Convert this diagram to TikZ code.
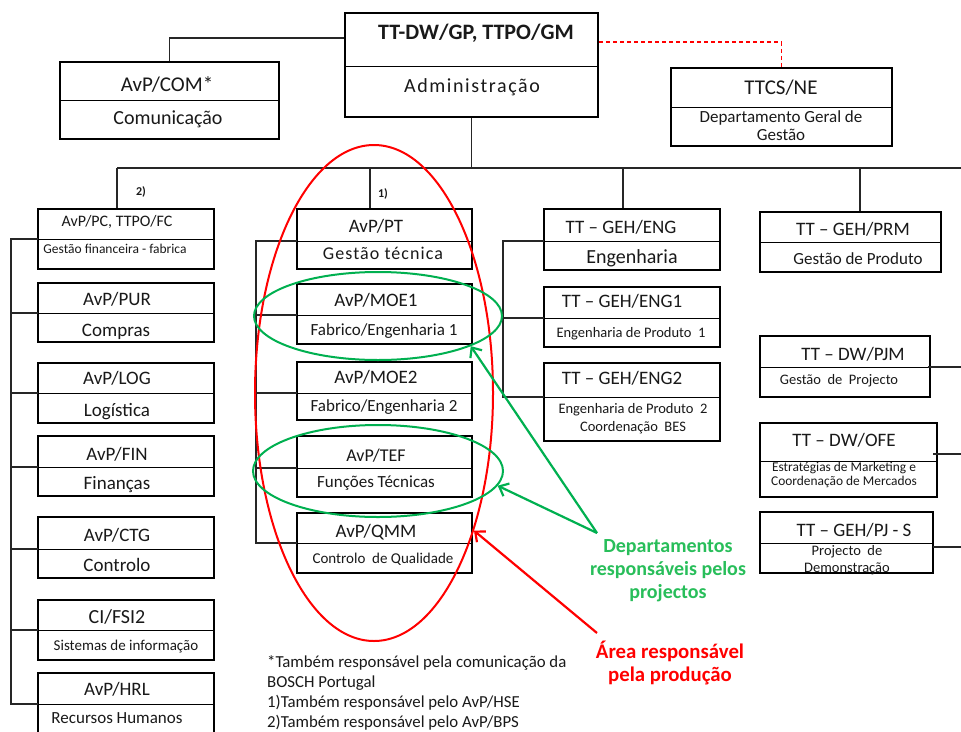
\documentclass[tikz,border=0pt]{standalone}
\usepackage{fontspec}
\setmainfont{Carlito}
\usetikzlibrary{fit,shapes.geometric,arrows.meta}
\definecolor{ringgreen}{RGB}{0,176,80}
\definecolor{notegreen}{RGB}{40,190,90}
\definecolor{ringred}{RGB}{255,0,0}
\newcommand\fsz[2]{\fontsize{#1}{#2}\selectfont}
\tikzset{
  box/.style={draw=black, line width=2.6pt, inner sep=0pt},
  divider/.style={line width=1pt},
  conn/.style={line width=1.1pt, black!85},
  lbl/.style={inner sep=0pt, anchor=base, align=center, text=black!90},
  ring/.style={ellipse, inner sep=0pt, line width=2pt},
  pointer/.style={line width=2.2pt, -{Straight Barb[length=8pt,width=14pt]}},
}
% two-part box: name, x1, y1, x2, y of divider, y2
\newcommand\orgbox[6]{%
  \node[box, fit={(#2,#3) (#4,#6)}] (#1) {};
  \coordinate (#1-dl) at (#2,#5);
  \coordinate (#1-dr) at (#4,#5);
  \draw[divider] (#1-dl) -- (#1-dr);
}
\begin{document}
\begin{tikzpicture}[x=1pt,y=-1pt]
\useasboundingbox (0,0) rectangle (961,731);
\fill[white] (0,0) rectangle (961,731);

% ---------- boxes ----------
\orgbox{top}{345}{13}{598}{66}{117}
\node[lbl, font=\bfseries\fsz{22}{26}] (top-t) at (476,39) {TT-DW/GP, TTPO/GM};
\node[lbl, font={\fsz{20}{24}\addfontfeature{LetterSpace=8}}] (top-b) at (472,92) {Administração};

\orgbox{com}{60}{62}{279}{100}{139}
\node[lbl, font=\fsz{21}{24}] (com-t) at (167,91) {AvP/COM*};
\node[lbl, font=\fsz{20}{24}] (com-b) at (168,124) {Comunicação};

\orgbox{ttcs}{671}{68}{892}{107}{146}
\node[lbl, font=\fsz{21}{24}] (ttcs-t) at (781,94) {TTCS/NE};
\node[lbl, font=\fsz{17}{18}] (ttcs-b) at (781,140) {Departamento Geral de\\Gestão};

% left column
\orgbox{pc}{38}{209}{214}{239}{269}
\node[lbl, font=\fsz{16}{18}] (pc-t) at (117,226) {AvP/PC, TTPO/FC};
\node[lbl, font=\fsz{13.5}{15}] (pc-b) at (115,253) {Gestão financeira - fabrica};

\orgbox{pur}{38}{283}{214}{313}{342}
\node[lbl, font=\fsz{19}{22}] (pur-t) at (117,305) {AvP/PUR};
\node[lbl, font=\fsz{19}{22}] (pur-b) at (116,336) {Compras};

\orgbox{log}{38}{363}{214}{393}{423}
\node[lbl, font=\fsz{19}{22}] (log-t) at (117,384) {AvP/LOG};
\node[lbl, font=\fsz{19}{22}] (log-b) at (117,416) {Logística};

\orgbox{fin}{38}{436}{214}{467}{496}
\node[lbl, font=\fsz{19}{22}] (fin-t) at (117,460) {AvP/FIN};
\node[lbl, font=\fsz{19}{22}] (fin-b) at (117,489) {Finanças};

\orgbox{ctg}{38}{517}{214}{549}{578}
\node[lbl, font=\fsz{19}{22}] (ctg-t) at (117,541) {AvP/CTG};
\node[lbl, font=\fsz{19}{22}] (ctg-b) at (117,571) {Controlo};

\orgbox{fsi}{38}{600}{214}{630}{660}
\node[lbl, font=\fsz{20}{22}] (fsi-t) at (117,623) {CI/FSI2};
\node[lbl, font=\fsz{15}{18}] (fsi-b) at (126,650) {Sistemas de informação};

\orgbox{hrl}{38}{673}{214}{704}{745}
\node[lbl, font=\fsz{19}{22}] (hrl-t) at (117,695) {AvP/HRL};
\node[lbl, font=\fsz{17}{20}] (hrl-b) at (117,723) {Recursos Humanos};

% production column
\orgbox{pt}{297}{209}{472}{241}{269}
\node[lbl, font=\fsz{19}{22}] (pt-t) at (376,232) {AvP/PT};
\node[lbl, font={\fsz{18}{22}\addfontfeature{LetterSpace=6}}] (pt-b) at (383,259) {Gestão técnica};

\orgbox{moea}{297}{284}{472}{315}{344}
\node[lbl, font=\fsz{19}{22}] (moea-t) at (376,306) {AvP/MOE1};
\node[lbl, font=\fsz{17}{20}] (moea-b) at (384,335) {Fabrico/Engenharia 1};

\orgbox{moeb}{297}{362}{472}{393}{420}
\node[lbl, font=\fsz{19}{22}] (moeb-t) at (376,383) {AvP/MOE2};
\node[lbl, font=\fsz{17}{20}] (moeb-b) at (384,411) {Fabrico/Engenharia 2};

\orgbox{tef}{297}{436}{472}{468}{497}
\node[lbl, font=\fsz{18}{22}] (tef-t) at (376,461) {AvP/TEF};
\node[lbl, font=\fsz{17}{20}] (tef-b) at (376,487) {Funções Técnicas};

\orgbox{qmm}{297}{513}{472}{543}{573}
\node[lbl, font=\fsz{19}{22}] (qmm-t) at (376,537) {AvP/QMM};
\node[lbl, font=\fsz{15}{18}] (qmm-b) at (383,563) {Controlo\ \ de Qualidade};

% engineering column
\orgbox{eng}{544}{209}{720}{241}{270}
\node[lbl, font=\fsz{19}{22}] (eng-t) at (621,233) {TT -- GEH/ENG};
\node[lbl, font=\fsz{20}{22}] (eng-b) at (632,263) {Engenharia};

\orgbox{enga}{544}{287}{720}{318}{347}
\node[lbl, font=\fsz{19}{22}] (enga-t) at (622,307) {TT -- GEH/ENG1};
\node[lbl, font=\fsz{14.5}{17}] (enga-b) at (631,337) {Engenharia de Produto\ \ 1};

\orgbox{engb}{544}{363}{720}{397}{441}
\node[lbl, font=\fsz{19}{22}] (engb-t) at (622,384) {TT -- GEH/ENG2};
\node[lbl, font=\fsz{14.5}{18}] (engb-b) at (633,431) {Engenharia de Produto\ \ 2\\Coordenação\ \ BES};

% right column
\orgbox{prm}{760}{212}{941}{242}{272}
\node[lbl, font=\fsz{19}{22}] (prm-t) at (853,235) {TT -- GEH/PRM};
\node[lbl, font=\fsz{17}{20}] (prm-b) at (858,264) {Gestão de Produto};

\orgbox{pjm}{760}{336}{930}{367}{397}
\node[lbl, font=\fsz{19}{22}] (pjm-t) at (853,360) {TT -- DW/PJM};
\node[lbl, font=\fsz{14.5}{17}] (pjm-b) at (839,384) {Gestão\ \ de\ \ Projecto};

\orgbox{ofe}{760}{423}{937}{461}{497}
\node[lbl, font=\fsz{19}{22}] (ofe-t) at (844,446) {TT -- DW/OFE};
\node[lbl, font=\fsz{13.4}{14}] (ofe-b) at (844,485) {Estratégias de Marketing e\\Coordenação de Mercados};

\orgbox{pjs}{760}{512}{933}{543}{573}
\node[lbl, font=\fsz{19}{22}] (pjs-t) at (854,536) {TT -- GEH/PJ - S};
\node[lbl, font=\fsz{14.5}{17}] (pjs-b) at (847,572) {Projecto\ \ de\\Demonstração};

% ---------- connectors ----------
\coordinate (busL) at (117,168);
\coordinate (busR) at (961,168);
\coordinate (busPT) at (370,168);
\coordinate (busENG) at (623,168);
\coordinate (busPRM) at (860,168);
\draw[conn] (top.south) -- (top.south |- busL);
\draw[conn] (busL) -- (busR);
\draw[conn] (busL) -- (busL |- pc.north);
\draw[conn] (busPT) -- (busPT |- pt.north);
\draw[conn] (busENG) -- (busENG |- eng.north);
\draw[conn] (busPRM) -- (busPRM |- prm.north);
\draw[conn] (com.north) |- ([yshift=27pt]top.west);
\draw[ringred, line width=1.1pt, dash pattern=on 4pt off 3pt] ([yshift=23pt]top.east) -| (ttcs.north);

% left trunk
\coordinate (ltrunk) at (11,0);
\draw[conn] (pc-dl) -- (ltrunk |- pc-dl) -- (ltrunk |- hrl-dl) -- (hrl-dl);
\foreach \b in {pur,log,fin,ctg,fsi}
  \draw[conn] (ltrunk |- \b-dl) -- (\b-dl);

% production trunk
\coordinate (mtrunk) at (256,0);
\draw[conn] (pt-dl) -- (mtrunk |- pt-dl) -- (mtrunk |- qmm-dl) -- (qmm-dl);
\foreach \b in {moea,moeb,tef}
  \draw[conn] (mtrunk |- \b-dl) -- (\b-dl);

% engineering trunk
\coordinate (etrunk) at (503,0);
\draw[conn] (eng-dl) -- (etrunk |- eng-dl) -- (etrunk |- engb-dl) -- (engb-dl);
\draw[conn] (etrunk |- enga-dl) -- (enga-dl);

% lines leaving to the right
\coordinate (rEdge) at (961,0);
\coordinate (pjmOut) at ([xshift=-2pt]pjm-dr);
\coordinate (ofeOut) at ([xshift=-4pt,yshift=7pt]ofe-dr);
\coordinate (pjsOut) at ([yshift=-4pt]pjs-dr);
\draw[conn] (pjmOut) -- (rEdge |- pjmOut);
\draw[conn] (ofeOut) -- (rEdge |- ofeOut);
\draw[conn] (pjsOut) -- (rEdge |- pjsOut);

% footnote markers
\node[lbl, font=\bfseries\fsz{12}{14}] (mark2) at (141,195) {2)};
\node[lbl, font=\bfseries\fsz{12}{14}] (mark1) at (383,197) {1)};

% ---------- highlight rings ----------
\node[ring, draw=ringred, minimum width=238pt, minimum height=496pt] (prodRing) at (374,393) {};
\node[ring, draw=ringgreen, minimum width=248pt, minimum height=88pt] (moeRing) at (378,316) {};
\node[ring, draw=ringgreen, minimum width=250pt, minimum height=92pt] (tefRing) at (378,471) {};

\coordinate (greenApex) at (597,533);
\coordinate (redStart) at (597,633);
\draw[pointer, ringgreen] (greenApex) -- (moeRing.-18);
\draw[pointer, ringgreen] (greenApex) -- (tefRing.-7);
\draw[pointer, ringred] (redStart) -- (prodRing.-54);

\node[lbl, text=notegreen, font=\bfseries\fsz{20}{23}] (greenNote) at (668,598)
  {Departamentos\\responsáveis pelos\\projectos};
\node[lbl, text=ringred, font=\bfseries\fsz{20.8}{23}] (redNote) at (670,681)
  {Área responsável\\pela produção};

% ---------- footnotes ----------
\node[inner sep=0pt, anchor=base west, align=left, text=black!90, font=\fsz{16.8}{20}] (notes) at (267,727)
  {*Também\ responsável\ pela\ comunicação\ da\\BOSCH\ Portugal\\1)Também responsável pelo AvP/HSE\\2)Também responsável pelo AvP/BPS};
\end{tikzpicture}
\end{document}
